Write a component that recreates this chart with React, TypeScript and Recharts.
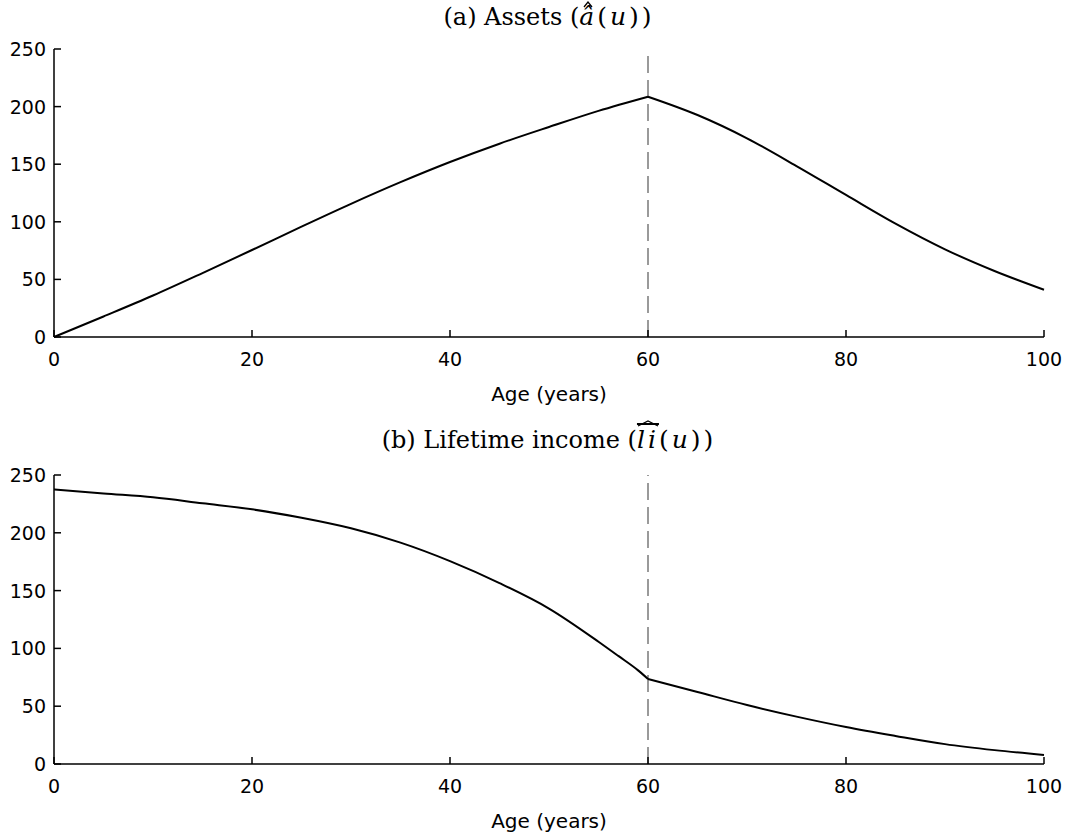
import React from 'react';
import { LineChart, Line, XAxis, YAxis, ReferenceLine } from 'recharts';

// values (age in years)
const assetAges = [0, 5, 10, 15, 20, 25, 30, 35, 40, 45, 50, 55, 60, 65, 70, 75, 80, 85, 90, 95, 100];
const assetValues = [0, 17.8, 36, 55.5, 75.5, 95.8, 115.6, 134.4, 151.9, 167.8, 182.3, 196.3, 208.6, 192.7, 172.5, 148.4, 123.3, 98.4, 76.1, 57.3, 41];

const incomeAges = [0, 5, 10, 15, 20, 25, 30, 35, 40, 45, 50, 55, 57, 59, 60, 65, 70, 75, 80, 85, 90, 95, 100];
const incomeValues = [237.6, 234, 230.7, 225.5, 220.3, 213, 203.9, 191.5, 175.5, 156.5, 134.5, 105.8, 93.5, 81, 73.6, 62.3, 51, 41, 32, 24.3, 17.2, 12, 7.8];

const xTicks = [0, 20, 40, 60, 80, 100];
const yTicks = [0, 50, 100, 150, 200, 250];
const retirementAge = 60;

// split at retirement so the kink stays sharp while each side is smooth
function buildRows(ages: number[], values: number[]) {
  return ages.map((age, i) => ({
    age,
    before: age <= retirementAge ? values[i] : null,
    after: age >= retirementAge ? values[i] : null,
  }));
}

const assetData = buildRows(assetAges, assetValues);
const incomeData = buildRows(incomeAges, incomeValues);

const tickFont = '"DejaVu Sans", sans-serif';

// ticks point into the plot, like the original figure
function XTick(props: any) {
  const { x, y, payload } = props;
  return (
    <g>
      <line x1={x} x2={x} y1={y} y2={y - 7} stroke="#000" strokeWidth={1.5} />
      <text x={x} y={y + 22} textAnchor="middle" dominantBaseline="central" fontSize={19} fontFamily={tickFont} fill="#000">
        {payload.value}
      </text>
    </g>
  );
}

function YTick(props: any) {
  const { x, y, payload } = props;
  return (
    <g>
      <line x1={x} x2={x + 7} y1={y} y2={y} stroke="#000" strokeWidth={1.5} />
      <text x={x - 8} y={y} textAnchor="end" dominantBaseline="central" fontSize={19} fontFamily={tickFont} fill="#000">
        {payload.value}
      </text>
    </g>
  );
}

function Panel({ data, height, top, bottom }: { data: any[]; height: number; top: number; bottom: number }) {
  return (
    <LineChart width={1069} height={height} data={data} margin={{ top, right: 25, bottom, left: 0 }}>
      <XAxis
        dataKey="age"
        type="number"
        domain={[0, 100]}
        ticks={xTicks}
        height={60}
        tickSize={0}
        tickMargin={0}
        tickLine={false}
        axisLine={{ stroke: '#000', strokeWidth: 1.5 }}
        tick={<XTick />}
      />
      <YAxis
        type="number"
        domain={[0, 250]}
        ticks={yTicks}
        width={54}
        tickSize={0}
        tickMargin={0}
        tickLine={false}
        axisLine={{ stroke: '#000', strokeWidth: 1.5 }}
        tick={<YTick />}
      />
      <ReferenceLine x={retirementAge} stroke="#9a9a9a" strokeWidth={2} strokeDasharray="17 7" />
      <Line type="monotone" dataKey="before" stroke="#000" strokeWidth={2} dot={false} connectNulls={false} isAnimationActive={false} />
      <Line type="monotone" dataKey="after" stroke="#000" strokeWidth={2} dot={false} connectNulls={false} isAnimationActive={false} />
    </LineChart>
  );
}

// small wide circumflex drawn above a symbol
function Hat({ width, top }: { width: number; top: number }) {
  return (
    <svg
      width={width}
      height={7}
      style={{ position: 'absolute', left: '50%', marginLeft: -width / 2, top }}
      viewBox={`0 0 ${width} 7`}
    >
      <path d={`M1 6 L${width / 2} 1 L${width - 1} 6`} fill="none" stroke="#000" strokeWidth={1.3} />
    </svg>
  );
}

const titleStyle: React.CSSProperties = {
  position: 'absolute',
  left: 54,
  width: 990,
  textAlign: 'center',
  fontFamily: '"DejaVu Serif", serif',
  fontSize: 24,
  lineHeight: '28px',
  color: '#000',
};

const mathStyle: React.CSSProperties = { fontSize: 25, letterSpacing: '3px' };

const xLabelStyle: React.CSSProperties = {
  position: 'absolute',
  left: 54,
  width: 990,
  textAlign: 'center',
  fontFamily: tickFont,
  fontSize: 20,
  lineHeight: '22px',
  color: '#000',
};

export default function App() {
  return (
    <div style={{ position: 'absolute', left: 0, top: 0, width: 1069, height: 837, background: '#fff' }}>
      <div style={{ position: 'absolute', left: 0, top: 0 }}>
        <Panel data={assetData} height={418} top={49} bottom={21} />
      </div>
      <div style={{ position: 'absolute', left: 0, top: 418 }}>
        <Panel data={incomeData} height={419} top={57} bottom={13} />
      </div>

      <div style={{ ...titleStyle, top: 3 }}>
        (a) Assets (
        <span style={mathStyle}>
          <span style={{ position: 'relative', display: 'inline-block' }}>
            <i>â</i>
            <Hat width={10} top={-2} />
          </span>
          (<i>u</i>))
        </span>
      </div>
      <div style={{ ...titleStyle, top: 426 }}>
        (b) Lifetime income (
        <span style={mathStyle}>
          <span style={{ position: 'relative', display: 'inline-block' }}>
            <i style={{ textDecoration: 'overline' }}>li</i>
            <Hat width={22} top={-6} />
          </span>
          (<i>u</i>))
        </span>
      </div>

      <div style={{ ...xLabelStyle, top: 383 }}>Age (years)</div>
      <div style={{ ...xLabelStyle, top: 810 }}>Age (years)</div>
    </div>
  );
}
